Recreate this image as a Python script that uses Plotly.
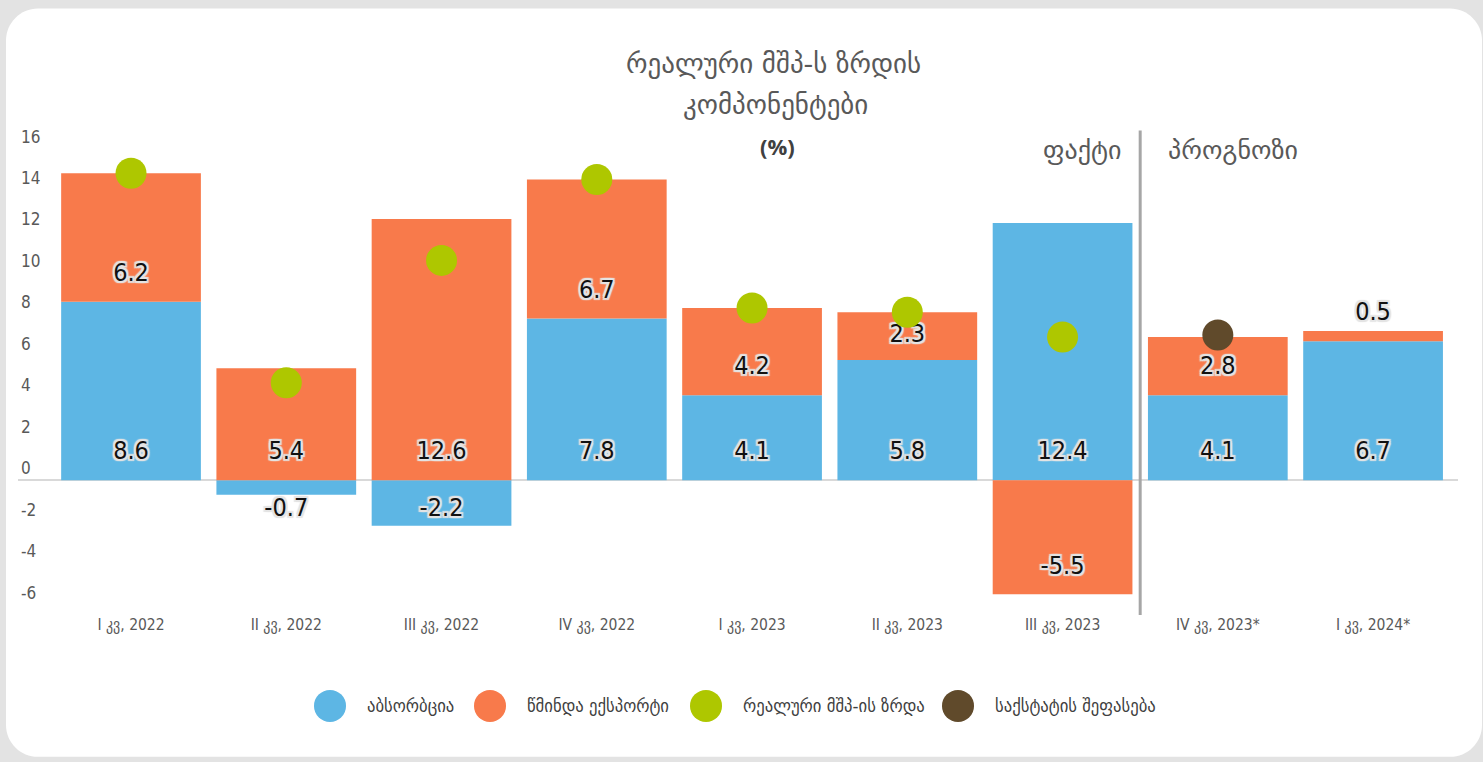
import plotly.graph_objects as go

# ---------------- data ----------------
categories = ["I კვ, 2022", "II კვ, 2022", "III კვ, 2022", "IV კვ, 2022",
              "I კვ, 2023", "II კვ, 2023", "III კვ, 2023", "IV კვ, 2023*", "I კვ, 2024*"]
absorption = [8.6, -0.7, -2.2, 7.8, 4.1, 5.8, 12.4, 4.1, 6.7]
net_export = [6.2, 5.4, 12.6, 6.7, 4.2, 2.3, -5.5, 2.8, 0.5]
gdp_cats = categories[:7]
gdp_growth = [14.8, 4.7, 10.6, 14.5, 8.3, 8.1, 6.9]
geostat_cats = ["IV კვ, 2023*"]
geostat_est = [7.0]
yticks = [-6, -4, -2, 0, 2, 4, 6, 8, 10, 12, 14, 16]

title_lines = ["რეალური მშპ-ს ზრდის", "კომპონენტები"]
unit_text = "(%)"
fact_text = "ფაქტი"
forecast_text = "პროგნოზი"
legend_names = ["აბსორბცია", "წმინდა ექსპორტი", "რეალური მშპ-ის ზრდა", "საქსტატის შეფასება"]

# ---------------- style ----------------
BLUE = "#5DB6E4"
ORANGE = "#F87A4B"
GREEN = "#AEC700"
BROWN = "#604A2B"
TXT = "#595959"
NARROW = "Liberation Sans Narrow, DejaVu Sans Condensed, Arial Narrow, sans-serif"
GEO = "DejaVu Sans, Noto Sans, sans-serif"
GEO_COND = "DejaVu Sans Condensed, DejaVu Sans, sans-serif"

FW, FH = 1483, 762
Y_TOP, Y_BOT = 18.0, -6.41
PX_PER_UNIT = 20.75
ZERO_PX = 480
ML, MR = 18, 25
MT = ZERO_PX - Y_TOP * PX_PER_UNIT
MB = FH - (ZERO_PX - Y_BOT * PX_PER_UNIT)
PW, PH = FW - ML - MR, FH - MT - MB
BOTTOM = FH - MB


def px_x(px):
    return (px - ML) / PW


def px_y(py):
    return (BOTTOM - py) / PH


# label positions derived from stacked segments
def seg_label(start, end, value):
    lo, hi = min(start, end), max(start, end)
    h = hi - lo
    if h < 1:
        return hi + 0.85 if value > 0 else lo - 0.75
    if value >= 0:
        return lo + min(1.3, h / 2)
    return lo + min(1.25, h * 0.35)


abs_lbl_y, nx_lbl_y = [], []
for a, n in zip(absorption, net_export):
    abs_lbl_y.append(seg_label(0, a, a))
    s = max(a, 0) if n >= 0 else min(a, 0)
    nx_lbl_y.append(seg_label(s, s + n, n))

shadow_c = "#e4e4e4"
shadow = ", ".join(f"{dx}px {dy}px 1px {shadow_c}" for dx, dy in
                   [(-2, -2), (2, -2), (-2, 2), (2, 2), (0, 2), (0, -2), (2, 0), (-2, 0)])
lbl_font = dict(family=NARROW, size=25, color="#111111", shadow=shadow)

fig = go.Figure()
fig.add_trace(go.Bar(x=categories, y=absorption, marker=dict(color=BLUE, line=dict(width=0)),
                     name=legend_names[0], showlegend=False, hoverinfo="skip"))
fig.add_trace(go.Bar(x=categories, y=net_export, marker=dict(color=ORANGE, line=dict(width=0)),
                     name=legend_names[1], showlegend=False, hoverinfo="skip"))

fig.add_trace(go.Scatter(x=categories, y=abs_lbl_y, mode="text",
                         text=[f"{v:.1f}" for v in absorption], textfont=lbl_font,
                         cliponaxis=False, showlegend=False, hoverinfo="skip"))
fig.add_trace(go.Scatter(x=categories, y=nx_lbl_y, mode="text",
                         text=[f"{v:.1f}" for v in net_export], textfont=lbl_font,
                         cliponaxis=False, showlegend=False, hoverinfo="skip"))

fig.add_trace(go.Scatter(x=gdp_cats, y=gdp_growth, mode="markers",
                         marker=dict(color=GREEN, size=31, line=dict(width=0)),
                         name=legend_names[2], showlegend=False, cliponaxis=False))
fig.add_trace(go.Scatter(x=geostat_cats, y=geostat_est, mode="markers",
                         marker=dict(color=BROWN, size=31, line=dict(width=0)),
                         name=legend_names[3], showlegend=False, cliponaxis=False))

# ---------------- card background ----------------
cx0, cy0, cx1, cy1, r = 6, 8, 1482, 757, 32
k = 0.45


def P(x, y):
    return f"{px_x(x):.5f},{px_y(y):.5f}"


path = (f"M {P(cx0 + r, cy0)} L {P(cx1 - r, cy0)} "
        f"C {P(cx1 - r * k, cy0)} {P(cx1, cy0 + r * k)} {P(cx1, cy0 + r)} "
        f"L {P(cx1, cy1 - r)} "
        f"C {P(cx1, cy1 - r * k)} {P(cx1 - r * k, cy1)} {P(cx1 - r, cy1)} "
        f"L {P(cx0 + r, cy1)} "
        f"C {P(cx0 + r * k, cy1)} {P(cx0, cy1 - r * k)} {P(cx0, cy1 - r)} "
        f"L {P(cx0, cy0 + r)} "
        f"C {P(cx0, cy0 + r * k)} {P(cx0 + r * k, cy0)} {P(cx0 + r, cy0)} Z")

shapes = [dict(type="path", path=path, xref="paper", yref="paper",
               fillcolor="white", line=dict(width=0), layer="below")]

# separator between fact and forecast
shapes.append(dict(type="line", xref="x", yref="paper", x0=6.5, x1=6.5,
                   y0=px_y(615), y1=px_y(130), line=dict(color="#A6A6A6", width=3)))

annotations = []
# title
annotations.append(dict(text=title_lines[0], x=px_x(773), y=px_y(63), xref="paper", yref="paper",
                        showarrow=False, font=dict(family=GEO, size=27, color=TXT),
                        xanchor="center", yanchor="middle"))
annotations.append(dict(text=title_lines[1], x=px_x(775), y=px_y(104), xref="paper", yref="paper",
                        showarrow=False, font=dict(family=GEO, size=27, color=TXT),
                        xanchor="center", yanchor="middle"))
annotations.append(dict(text=f"<b>{unit_text}</b>", x=px_x(777), y=px_y(146), xref="paper",
                        yref="paper", showarrow=False,
                        font=dict(family="Open Sans, sans-serif", size=22, color="#404040"),
                        xanchor="center", yanchor="middle"))
annotations.append(dict(text=fact_text, x=px_x(1123), y=px_y(150), xref="paper", yref="paper",
                        showarrow=False, font=dict(family=GEO, size=26, color=TXT),
                        xanchor="right", yanchor="middle"))
annotations.append(dict(text=forecast_text, x=px_x(1166), y=px_y(150), xref="paper", yref="paper",
                        showarrow=False, font=dict(family=GEO, size=26, color=TXT),
                        xanchor="left", yanchor="middle"))

# manual legend
leg_cx = [330, 490, 706, 958]
leg_colors = [BLUE, ORANGE, GREEN, BROWN]
leg_y = 706
rad = 16
for cxp, col, name in zip(leg_cx, leg_colors, legend_names):
    shapes.append(dict(type="circle", xref="paper", yref="paper",
                       x0=px_x(cxp - rad), x1=px_x(cxp + rad),
                       y0=px_y(leg_y + rad), y1=px_y(leg_y - rad),
                       fillcolor=col, line=dict(width=0)))
    annotations.append(dict(text=name, x=px_x(cxp + 35), y=px_y(leg_y), xref="paper",
                            yref="paper", showarrow=False, xanchor="left", yanchor="middle",
                            font=dict(family=GEO_COND, size=18.5, color="#404040")))

fig.update_layout(
    width=FW, height=FH,
    margin=dict(l=ML, r=MR, t=MT, b=MB),
    paper_bgcolor="#E3E3E3",
    plot_bgcolor="rgba(0,0,0,0)",
    barmode="relative",
    bargap=0.1,
    showlegend=False,
    shapes=shapes,
    annotations=annotations,
    xaxis=dict(type="category", categoryorder="array", categoryarray=categories,
               range=[-0.728, 8.547], showgrid=False, showline=False, zeroline=False,
               ticks="", tickfont=dict(family=GEO_COND, size=15.5, color=TXT), fixedrange=True),
    yaxis=dict(range=[Y_BOT, Y_TOP], tickvals=yticks, ticktext=[str(v) for v in yticks],
               showgrid=False, showline=False, zeroline=True, zerolinecolor="#D9D9D9",
               zerolinewidth=2, ticks="", ticklabelposition="inside top",
               tickfont=dict(family=NARROW, size=17, color=TXT), fixedrange=True),
)

fig.write_html("out.html")
